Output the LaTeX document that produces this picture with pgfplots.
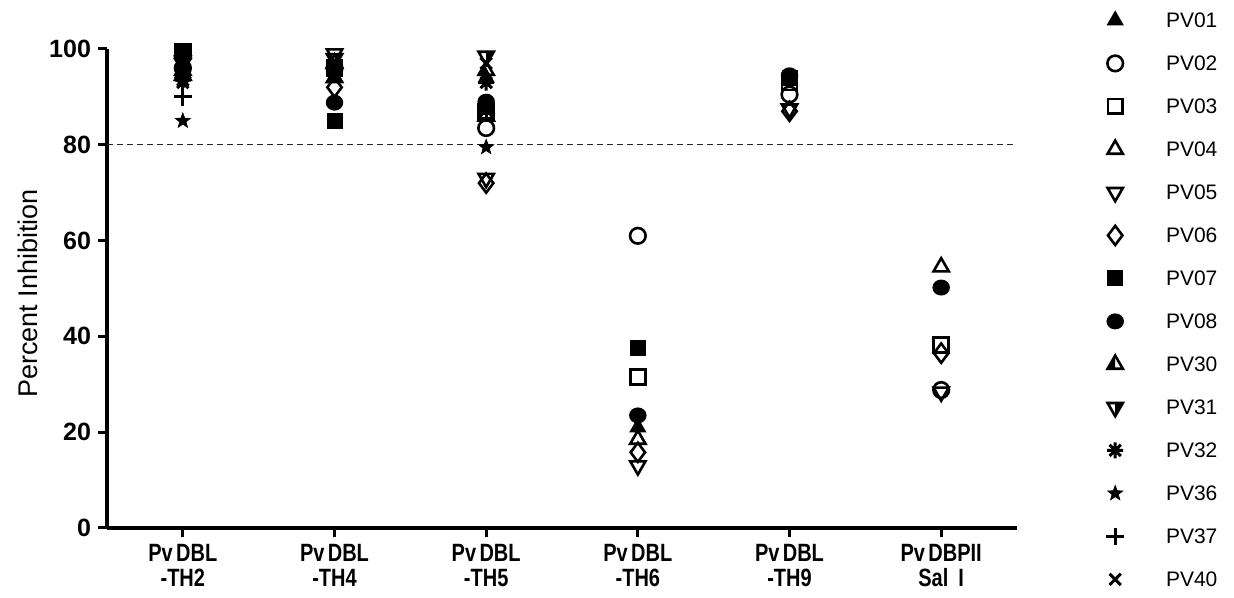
\documentclass[border=0pt]{standalone}
\usepackage{fontspec}
\setmainfont{Liberation Sans}
\usepackage{graphicx}
\usepackage{pgfplots}
\pgfplotsset{compat=1.18}

\pgfdeclareplotmark{fstar}{%
  \pgfpathmoveto{\pgfpointpolar{90}{\pgfplotmarksize}}%
  \pgfpathlineto{\pgfpointpolar{126}{0.42\pgfplotmarksize}}%
  \pgfpathlineto{\pgfpointpolar{162}{\pgfplotmarksize}}%
  \pgfpathlineto{\pgfpointpolar{198}{0.42\pgfplotmarksize}}%
  \pgfpathlineto{\pgfpointpolar{234}{\pgfplotmarksize}}%
  \pgfpathlineto{\pgfpointpolar{270}{0.42\pgfplotmarksize}}%
  \pgfpathlineto{\pgfpointpolar{306}{\pgfplotmarksize}}%
  \pgfpathlineto{\pgfpointpolar{342}{0.42\pgfplotmarksize}}%
  \pgfpathlineto{\pgfpointpolar{18}{\pgfplotmarksize}}%
  \pgfpathlineto{\pgfpointpolar{54}{0.42\pgfplotmarksize}}%
  \pgfpathclose\pgfusepathqfillstroke}

\pgfdeclareplotmark{halftri}{%
  \pgfpathmoveto{\pgfqpoint{0pt}{\pgfplotmarksize}}%
  \pgfpathlineto{\pgfpoint{-0.866\pgfplotmarksize}{-0.5\pgfplotmarksize}}%
  \pgfpathlineto{\pgfpoint{0pt}{-0.5\pgfplotmarksize}}%
  \pgfpathclose\pgfusepathqfill
  \pgfpathmoveto{\pgfqpoint{0pt}{\pgfplotmarksize}}%
  \pgfpathlineto{\pgfpoint{-0.866\pgfplotmarksize}{-0.5\pgfplotmarksize}}%
  \pgfpathlineto{\pgfpoint{0.866\pgfplotmarksize}{-0.5\pgfplotmarksize}}%
  \pgfpathclose\pgfusepathqstroke}

\pgfdeclareplotmark{ast8}{%
  \pgfpathmoveto{\pgfpointpolar{0}{\pgfplotmarksize}}\pgfpathlineto{\pgfpointpolar{180}{\pgfplotmarksize}}%
  \pgfpathmoveto{\pgfpointpolar{45}{\pgfplotmarksize}}\pgfpathlineto{\pgfpointpolar{225}{\pgfplotmarksize}}%
  \pgfpathmoveto{\pgfpointpolar{90}{\pgfplotmarksize}}\pgfpathlineto{\pgfpointpolar{270}{\pgfplotmarksize}}%
  \pgfpathmoveto{\pgfpointpolar{135}{\pgfplotmarksize}}\pgfpathlineto{\pgfpointpolar{315}{\pgfplotmarksize}}%
  \pgfusepathqstroke}

\newcommand{\cx}[1]{\scalebox{0.8}[1]{#1}}

\begin{document}
\begin{tikzpicture}
\useasboundingbox (0,0) rectangle (617pt,299pt);
\begin{axis}[
  at={(53.5pt,35pt)}, anchor=south west,
  scale only axis, width=455pt, height=239.5pt,
  xmin=-0.5, xmax=5.5, ymin=0, ymax=100,
  clip=false,
  axis lines=left,
  axis line style={-, line width=2pt, black},
  every outer x axis line/.append style={-},
  every outer y axis line/.append style={-},
  tick align=outside,
  major tick length=4.5pt,
  tick style={line width=1.5pt, black},
  xtick={0,1,2,3,4,5},
  xticklabels={{\cx{Pv\,DBL}\\\cx{-TH2}},{\cx{Pv\,DBL}\\\cx{-TH4}},{\cx{Pv\,DBL}\\\cx{-TH5}},{\cx{Pv\,DBL}\\\cx{-TH6}},{\cx{Pv\,DBL}\\\cx{-TH9}},{\cx{Pv\,DBPII}\\\cx{Sal\enspace I}}},
  xticklabel style={align=center, font=\fontsize{12.5}{12.5}\selectfont\bfseries},
  ytick={0,20,40,60,80,100},
  yticklabel style={font=\fontsize{12.5}{14}\selectfont\bfseries},
  /pgf/number format/assume math mode=true,
  ylabel={Percent Inhibition},
  every axis y label/.style={at={(axis description cs:-0.087,0.49)}, rotate=90, anchor=center, font=\fontsize{13.5}{15}\selectfont},
  legend style={at={(1,1)}, anchor=north west, xshift=44.5pt, yshift=20pt,
    draw=none, fill=none, font=\fontsize{10.5}{11}\selectfont, row sep=10.5pt, inner sep=0pt,
    nodes={inner sep=2pt, text height=7pt, text depth=0pt},
    /tikz/every odd column/.append style={column sep=19pt}},
  legend cell align=left,
]
\addplot[forget plot, line width=0.6pt, dash pattern=on 3pt off 2pt, black!85] coordinates {(-0.5,80) (5.5,80)};

\addplot[only marks, black, mark=triangle*, mark size=4.2pt, line width=0.8pt] coordinates {(0,95) (1,94) (2,94) (3,21)};
\addlegendentry{PV01}
\addplot[only marks, black, mark=o, mark size=3.9pt, line width=1.3pt] coordinates {(0,96) (1,96) (2,83.5) (3,61) (4,90.5) (5,28.8)};
\addlegendentry{PV02}
\addplot[only marks, black, mark=square, mark size=3.7pt, line width=1.3pt] coordinates {(0,99.5) (1,96) (2,87) (3,31.5) (4,93) (5,38.2)};
\addlegendentry{PV03}
\addplot[only marks, black, mark=triangle, mark size=4.4pt, line width=1.3pt] coordinates {(0,95.5) (1,97) (2,86) (3,18.5) (5,54.5)};
\addlegendentry{PV04}
\addplot[only marks, black, mark=triangle, mark size=4.4pt, line width=1.3pt, mark options={rotate=180}] coordinates {(0,97) (1,99) (2,73) (3,13) (4,87.5) (5,28.4)};
\addlegendentry{PV05}
\addplot[only marks, black, mark=diamond, mark size=4.8pt, line width=1.3pt] coordinates {(0,94) (1,92) (2,72) (3,15.8) (4,87) (5,36.5)};
\addlegendentry{PV06}
\addplot[only marks, black, mark=square*, mark size=3.7pt, line width=0.6pt] coordinates {(0,99.5) (1,85) (2,88) (3,37.5) (4,94)};
\addlegendentry{PV07}
\addplot[only marks, black, mark=*, mark size=3.7pt, line width=0.6pt, mark options={xscale=1.1}] coordinates {(0,96) (1,88.8) (2,89) (3,23.5) (4,94.5) (5,50.2)};
\addlegendentry{PV08}
\addplot[only marks, black, mark=halftri, mark size=4.4pt, line width=1.3pt] coordinates {(0,94.5) (1,94) (2,95.5)};
\addlegendentry{PV30}
\addplot[only marks, black, mark=halftri, mark size=4.4pt, line width=1.3pt, mark options={rotate=180}] coordinates {(0,97.5) (1,98) (2,98.5)};
\addlegendentry{PV31}
\addplot[only marks, black, mark=ast8, mark size=4pt, line width=1.5pt] coordinates {(0,93.5) (1,96) (2,93)};
\addlegendentry{PV32}
\addplot[only marks, black, mark=fstar, mark size=4pt, line width=0.3pt] coordinates {(0,85) (1,95) (2,79.5)};
\addlegendentry{PV36}
\addplot[only marks, black, mark=+, mark size=4.4pt, line width=1.5pt] coordinates {(0,90) (1,96) (2,86.5)};
\addlegendentry{PV37}
\addplot[only marks, black, mark=x, mark size=4pt, line width=1.5pt] coordinates {(0,93) (1,97) (2,97)};
\addlegendentry{PV40}
\end{axis}
\end{tikzpicture}
\end{document}
